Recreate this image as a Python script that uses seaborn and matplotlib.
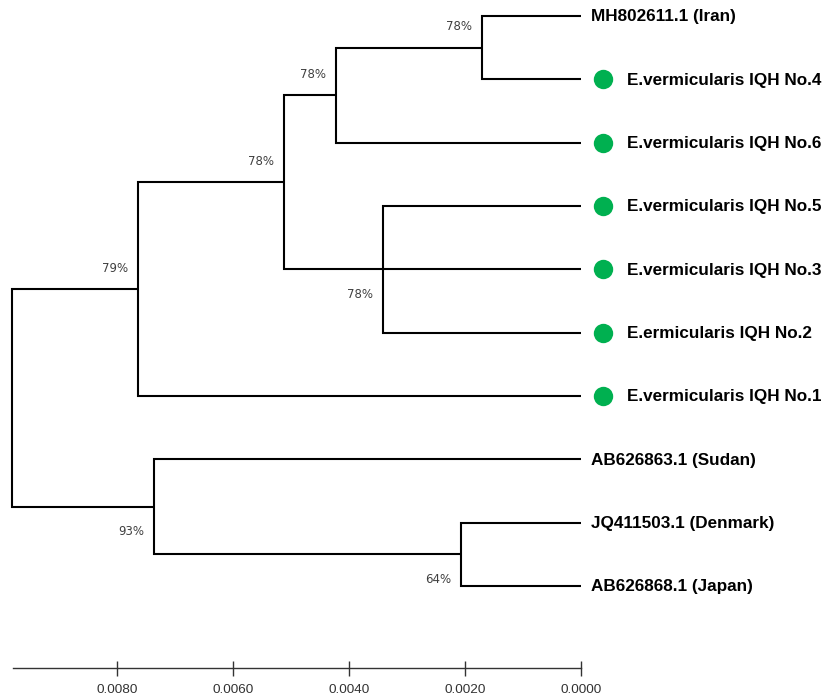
import numpy as np
import pandas as pd
import seaborn as sns
import matplotlib.pyplot as plt

# tips, top to bottom
tip_labels = [
    "MH802611.1 (Iran)",
    "E.vermicularis IQH No.4",
    "E.vermicularis IQH No.6",
    "E.vermicularis IQH No.5",
    "E.vermicularis IQH No.3",
    "E.ermicularis IQH No.2",
    "E.vermicularis IQH No.1",
    "AB626863.1 (Sudan)",
    "JQ411503.1 (Denmark)",
    "AB626868.1 (Japan)",
]
tip_is_isolate = [False, True, True, True, True, True, True, False, False, False]

# internal nodes (children listed before parents)
node_ids = ["n1", "n2", "n3", "n4", "n5", "n6", "n7", "root"]
node_children = [
    ["t0", "t1"],
    ["n1", "t2"],
    ["t3", "t4", "t5"],
    ["n2", "n3"],
    ["n4", "t6"],
    ["t8", "t9"],
    ["t7", "n6"],
    ["n5", "n7"],
]
node_heights = [0.00171, 0.00422, 0.00341, 0.00512, 0.00763, 0.00207, 0.00736, 0.00981]
node_support = [78, 78, 78, 78, 79, 64, 93, None]

axis_ticks = [0.0080, 0.0060, 0.0040, 0.0020, 0.0000]
axis_tick_labels = ["0.0080", "0.0060", "0.0040", "0.0020", "0.0000"]

# style
LINE_W = 1.5
DOT_COLOR = "#00b050"
LABEL_BELOW = {"n3", "n6", "n7"}
PX_PER_UNIT = 58000.0
TIP_PX = 581
ROW_PX = 63.33
TOP_PX = 16
W, H = 828, 697

sns.set_theme(style="white")
plt.rcParams["font.family"] = ["Liberation Sans", "DejaVu Sans"]

# layout of the tree
height = {f"t{i}": 0.0 for i in range(len(tip_labels))}
ypos = {f"t{i}": float(i) for i in range(len(tip_labels))}
for nid, ch, h in zip(node_ids, node_children, node_heights):
    height[nid] = h
    ypos[nid] = (ypos[ch[0]] + ypos[ch[-1]]) / 2

rows = []
seg = 0
for nid, ch in zip(node_ids, node_children):
    h = height[nid]
    first, last = ch[0], ch[-1]
    # bracket: first child -> node -> last child
    for x, y in [(height[first], ypos[first]), (h, ypos[first]),
                 (h, ypos[last]), (height[last], ypos[last])]:
        rows.append({"seg": seg, "x": x, "y": y})
    seg += 1
    for c in ch[1:-1]:
        for x in (h, height[c]):
            rows.append({"seg": seg, "x": x, "y": ypos[c]})
        seg += 1
seg_df = pd.DataFrame(rows)

fig = plt.figure(figsize=(W / 100, H / 100), dpi=100)
ax = fig.add_axes([0, 0, 1, 1])

sns.lineplot(
    data=seg_df, x="x", y="y", units="seg", estimator=None, sort=False,
    color="black", linewidth=LINE_W, solid_joinstyle="miter",
    solid_capstyle="butt", legend=False, ax=ax,
)

# green dots for study isolates
dot_df = pd.DataFrame({
    "x": [-22 / PX_PER_UNIT] * sum(tip_is_isolate),
    "y": [i for i, f in enumerate(tip_is_isolate) if f],
})
sns.scatterplot(data=dot_df, x="x", y="y", s=195, color=DOT_COLOR,
                linewidth=0, legend=False, ax=ax, zorder=3)

# tip labels
for i, (lab, iso) in enumerate(zip(tip_labels, tip_is_isolate)):
    gap = 46 if iso else 10
    ax.annotate(lab, xy=(0, i), xytext=(gap * 0.72, -0.5), textcoords="offset points",
                ha="left", va="center", fontsize=12.3, fontweight="bold", color="black")

# bootstrap values
for nid, s in zip(node_ids, node_support):
    if s is None:
        continue
    dy = -18 if nid in LABEL_BELOW else 15
    ax.annotate(f"{s}%", xy=(height[nid], ypos[nid]), xytext=(-7.2, dy),
                textcoords="offset points", ha="right", va="center",
                fontsize=8.5, color="#404040", family="DejaVu Sans")

# axes mapped to pixels
ax.set_xlim(TIP_PX / PX_PER_UNIT, -(W - TIP_PX) / PX_PER_UNIT)
ax.set_ylim((H - TOP_PX) / ROW_PX, -TOP_PX / ROW_PX)

for side in ["left", "right", "top"]:
    ax.spines[side].set_visible(False)
ax.spines["bottom"].set_position(("data", (668 - TOP_PX) / ROW_PX))
ax.spines["bottom"].set_bounds(0.0, 0.0098)
ax.spines["bottom"].set_color("#333333")
ax.spines["bottom"].set_linewidth(1.0)

ax.set_xticks(axis_ticks)
ax.set_xticklabels(axis_tick_labels)
ax.set_yticks([])
ax.tick_params(axis="x", direction="inout", length=10.8, width=1.0, color="#333333",
               pad=6.0, labelsize=9.7, labelcolor="#333333", bottom=True)
ax.set_xlabel("")
ax.set_ylabel("")

fig.savefig("out.png", dpi=100)
